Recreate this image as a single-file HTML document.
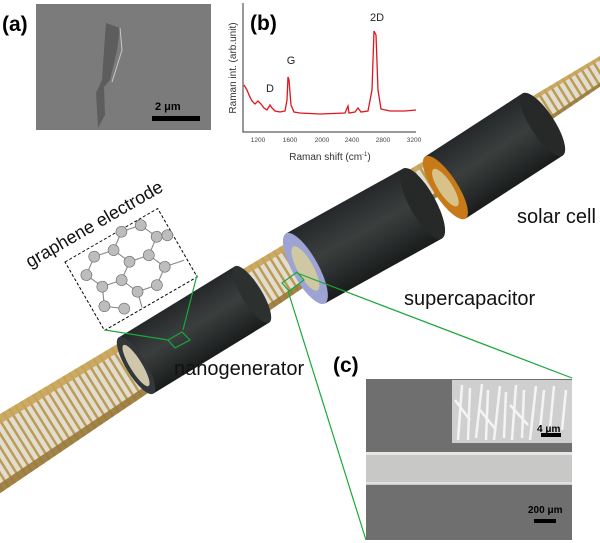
<!DOCTYPE html>
<html><head><meta charset="utf-8"><style>
html,body{margin:0;padding:0;background:#fff;}
svg{display:block;font-family:"Liberation Sans",sans-serif;}
</style></head><body>
<svg width="600" height="543" viewBox="0 0 600 543" xmlns="http://www.w3.org/2000/svg">
<defs>
<pattern id="spk" width="7" height="7" patternUnits="userSpaceOnUse" patternTransform="rotate(-32)">
<rect width="7" height="7" fill="#e2ddd0"/>
<rect x="0" y="0" width="2.5" height="7" fill="#bb9c55"/>
</pattern>
<linearGradient id="cyl" x1="0" y1="0" x2="0" y2="1">
<stop offset="0" stop-color="#25282a"/><stop offset="0.45" stop-color="#3a3f3e"/><stop offset="1" stop-color="#1a1c1c"/>
</linearGradient>
</defs>

<!-- main tube (tapered) -->
<polygon points="-10,420 610,50 610,80 -10,500" fill="url(#spk)"/>
<polygon points="-10,420 610,50 610,54 -10,430" fill="#c8a458" opacity="0.9"/>
<polygon points="-10,490 610,76 610,80 -10,500" fill="#9a7a3a" opacity="0.9"/>

<!-- nanogenerator -->
<g transform="translate(194,330) rotate(-31.5)">
<rect x="-68" y="-33" width="136" height="66" fill="url(#cyl)"/>
<ellipse cx="68" cy="0" rx="10" ry="33" fill="#2c302f"/>
<ellipse cx="-68" cy="0" rx="10" ry="33" fill="#33373a"/>
<ellipse cx="-68" cy="0" rx="6" ry="24" fill="#cfc6ac"/>
</g>
<!-- supercapacitor -->
<g transform="translate(364,236) rotate(-29)">
<rect x="-67" y="-40" width="134" height="80" fill="url(#cyl)"/>
<ellipse cx="67" cy="0" rx="13" ry="40" fill="#262928"/>
<ellipse cx="-67" cy="0" rx="13" ry="40" fill="#9da3d2"/>
<ellipse cx="-67" cy="0" rx="8" ry="25" fill="#d8cf9a" opacity="0.85"/>
</g>
<!-- solar cell -->
<g transform="translate(494,156) rotate(-33)">
<rect x="-58" y="-37" width="116" height="74" fill="url(#cyl)"/>
<ellipse cx="58" cy="0" rx="12" ry="37" fill="#262928"/>
<ellipse cx="-58" cy="0" rx="12" ry="37" fill="#c97a18"/>
<ellipse cx="-58" cy="0" rx="7" ry="22" fill="#d9c28a"/>
</g>

<!-- (a) SEM -->
<text x="2" y="31" font-size="21" font-weight="bold">(a)</text>
<rect x="36" y="4" width="175" height="126" fill="#7b7b7b"/>
<path d="M106,23 L120,28 L117,50 L110,80 L104,87 L105,115 L98,128 L96,93 L102,80 L104,50 Z" fill="#5d5d5d"/>
<path d="M120,28 L122,50 L112,82" stroke="#c8c8c8" stroke-width="1" fill="none"/>
<text x="155" y="110" font-size="11" font-weight="bold">2 μm</text>
<rect x="152" y="116" width="48" height="5" fill="#000"/>

<!-- (b) Raman -->
<text x="250" y="30" font-size="21" font-weight="bold">(b)</text>
<path d="M243,3 L243,132 L416,132" stroke="#333" stroke-width="1" fill="none"/>
<g font-size="6.5" fill="#444" text-anchor="middle">
<text x="258" y="142">1200</text><text x="290" y="142">1600</text><text x="322" y="142">2000</text><text x="352" y="142">2400</text><text x="383" y="142">2800</text><text x="414" y="142">3200</text>
</g>
<text x="330" y="160" font-size="10" fill="#333" text-anchor="middle">Raman shift (cm<tspan font-size="6" dy="-4">-1</tspan><tspan dy="4">)</tspan></text>
<text transform="translate(236,68) rotate(-90)" font-size="10" fill="#333" text-anchor="middle">Raman int. (arb.unit)</text>
<path d="M244,85 L247,90 L249,95 L252,101 L255,104 L258,101 L261,104 L264,108 L267,110 L270,105 L272,108 L275,111 L280,112 L285,111 L287,100 L288,77 L289,80 L291,105 L294,112 L300,113 L320,114 L345,113 L348,106 L349,113 L355,112 L358,108 L361,112 L368,111 L372,90 L374,31 L376,35 L378,90 L381,109 L390,111 L405,111 L416,110" stroke="#e0141c" stroke-width="1.3" fill="none"/>
<text x="291" y="64" font-size="11" fill="#222" text-anchor="middle">G</text>
<text x="270" y="92" font-size="11" fill="#222" text-anchor="middle">D</text>
<text x="377" y="21" font-size="11" fill="#222" text-anchor="middle">2D</text>

<!-- graphene box -->
<g transform="translate(65,262) rotate(-30)">
<rect x="0" y="0" width="107" height="79" fill="#fff" stroke="#000" stroke-dasharray="3,2"/>
<g stroke="#888" stroke-width="1.1" fill="none">
<path d="M12,22 L28,10 L48,14 L56,32 L40,44 L20,40 Z M48,14 L64,2 M56,32 L76,36 L92,24 L84,6 L64,2 M76,36 L84,54 L68,66 L48,62 L40,44 M92,24 L104,28 M84,54 L104,58 M20,40 L12,58 L28,70 M48,62 L44,78"/>
</g>
<g fill="#bdbdbd" stroke="#666" stroke-width="0.6">
<circle cx="12" cy="22" r="5.5"/><circle cx="28" cy="10" r="5.5"/><circle cx="48" cy="14" r="5.5"/><circle cx="56" cy="32" r="5.5"/><circle cx="40" cy="44" r="5.5"/><circle cx="20" cy="40" r="5.5"/>
<circle cx="64" cy="2" r="5.5"/><circle cx="76" cy="36" r="5.5"/><circle cx="92" cy="24" r="5.5"/><circle cx="84" cy="6" r="5.5"/><circle cx="84" cy="54" r="5.5"/><circle cx="68" cy="66" r="5.5"/><circle cx="48" cy="62" r="5.5"/><circle cx="102" cy="28" r="5.5"/><circle cx="12" cy="58" r="5.5"/><circle cx="28" cy="70" r="5.5"/>
</g>
</g>
<text transform="translate(30,268) rotate(-30)" font-size="18" fill="#111">graphene electrode</text>
<g stroke="#1aa83a" stroke-width="1.2" fill="none">
<path d="M105,330 L168,340 M197,275 L183,330"/>
<path d="M168,340 L182,332 L190,340 L175,348 Z"/>
<path d="M282,283 L297,272 L304,280 L289,291 Z"/>
<path d="M288,291 L366,540 M297,273 L572,378"/>
</g>

<!-- labels -->
<text x="517" y="223" font-size="20" fill="#111">solar cell</text>
<text x="404" y="305" font-size="20" fill="#111">supercapacitor</text>
<text x="174" y="375" font-size="20" fill="#111">nanogenerator</text>
<text x="333" y="372" font-size="21" font-weight="bold">(c)</text>

<!-- (c) SEM -->
<rect x="366" y="379" width="206" height="161" fill="#6f6f6f"/>
<rect x="366" y="452" width="206" height="33" fill="#c8c8c6"/>
<rect x="366" y="452" width="206" height="3" fill="#e6e6e6"/>
<rect x="366" y="482" width="206" height="2" fill="#e0e0e0"/>
<rect x="452" y="380" width="120" height="63" fill="#cfcfcf"/>
<g stroke="#f4f4f4" stroke-width="2.5">
<path d="M458,440 L462,385 M468,440 L470,388 M476,438 L482,384 M486,440 L488,390 M494,440 L500,386 M504,438 L506,392 M512,440 L516,385 M522,438 L524,390 M530,440 L536,386 M540,430 L544,390 M550,428 L554,386 M562,430 L566,390 M455,400 L470,420 M480,410 L496,430 M510,405 L528,425"/>
</g>
<text x="537" y="432" font-size="10" font-weight="bold">4 μm</text>
<rect x="541" y="433" width="20" height="4" fill="#000"/>
<text x="528" y="513" font-size="10" font-weight="bold">200 μm</text>
<rect x="534" y="519" width="22" height="4" fill="#000"/>
</svg>
</body></html>
